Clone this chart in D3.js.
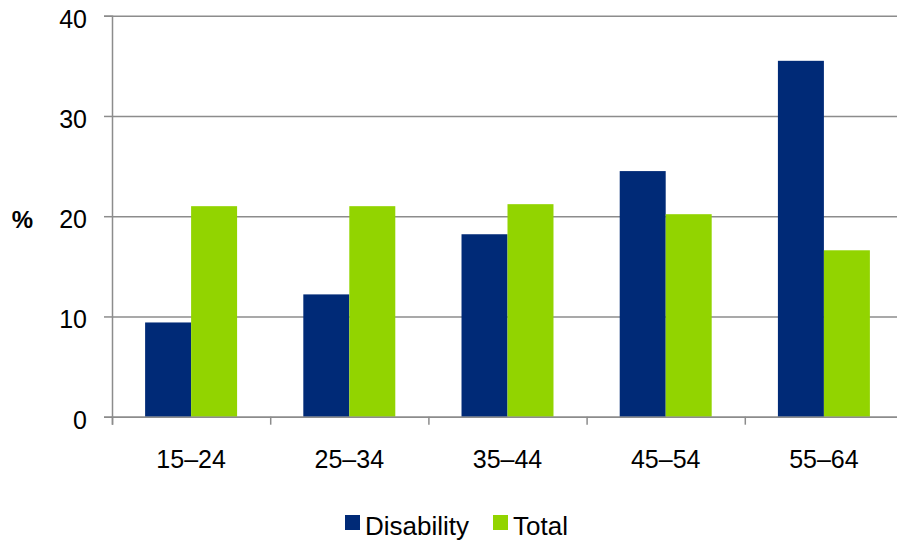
<!DOCTYPE html>
<html>
<head>
<meta charset="utf-8">
<script src="https://cdn.jsdelivr.net/npm/d3@7"></script>
<style>
  body { margin: 0; background: #fff; }
  text { font-family: Arial, "Liberation Sans", sans-serif; fill: #000; }
</style>
</head>
<body>
<div id="chart"></div>
<script>
// values
const categories = ['15–24', '25–34', '35–44', '45–54', '55–64'];
const seriesNames = ['Disability', 'Total'];
const disability = [9.4, 12.2, 18.2, 24.5, 35.5];
const total = [21.0, 21.0, 21.2, 20.2, 16.6];
const yTicks = [0, 10, 20, 30, 40];
const colors = { Disability: '#002A77', Total: '#92D400' };

const width = 897, height = 542;
const plotLeft = 112, plotRight = 903, plotTop = 15.7, plotBottom = 416.7;

const svg = d3.select('#chart').append('svg')
  .attr('width', width)
  .attr('height', height);

const yScale = d3.scaleLinear().domain([0, 40]).range([plotBottom, plotTop]);
const x0 = d3.scaleBand().domain(categories).range([plotLeft, plotRight]).padding(0);
const x1 = d3.scaleBand().domain(seriesNames).range([0, x0.bandwidth()])
  .paddingInner(0).paddingOuter(0.72);

// grid lines
svg.append('g')
  .attr('class', 'grid')
  .attr('transform', `translate(${plotLeft},0)`)
  .call(d3.axisLeft(yScale).tickValues(yTicks).tickSize(-(plotRight - plotLeft)).tickFormat(''))
  .call(g => g.select('.domain').remove())
  .call(g => g.selectAll('line').attr('stroke', '#8c8c8c').attr('stroke-width', 1.5));

// bars
const rows = categories.map((c, i) => ({ cat: c, Disability: disability[i], Total: total[i] }));
svg.append('g').selectAll('g')
  .data(rows)
  .join('g')
  .attr('transform', d => `translate(${x0(d.cat)},0)`)
  .selectAll('rect')
  .data(d => seriesNames.map(s => ({ key: s, value: d[s] })))
  .join('rect')
  .attr('x', d => x1(d.key))
  .attr('width', x1.bandwidth())
  .attr('y', d => yScale(d.value))
  .attr('height', d => plotBottom - yScale(d.value))
  .attr('fill', d => colors[d.key]);

// y axis
svg.append('g')
  .attr('transform', `translate(${plotLeft},0)`)
  .call(d3.axisLeft(yScale).tickValues(yTicks).tickSize(8).tickPadding(17))
  .call(g => g.select('.domain').attr('stroke', '#8c8c8c').attr('stroke-width', 1.5))
  .call(g => g.selectAll('line').attr('stroke', '#8c8c8c').attr('stroke-width', 1.5))
  .call(g => g.selectAll('text')
    .attr('font-size', 25)
    .attr('font-family', 'Arial, "Liberation Sans", sans-serif')
    .attr('fill', '#000')
    .attr('dy', '0.46em'));

// x axis: ticks on category boundaries
const xIdx = d3.scaleLinear().domain([0, categories.length]).range([plotLeft, plotRight]);
svg.append('g')
  .attr('transform', `translate(0,${plotBottom})`)
  .call(d3.axisBottom(xIdx).ticks(categories.length).tickSize(8).tickFormat(''))
  .call(g => g.select('.domain').attr('stroke', '#8c8c8c').attr('stroke-width', 1.5))
  .call(g => g.selectAll('line').attr('stroke', '#8c8c8c').attr('stroke-width', 1.5));

svg.append('g').selectAll('text')
  .data(categories)
  .join('text')
  .attr('x', d => x0(d) + x0.bandwidth() / 2)
  .attr('y', 468)
  .attr('text-anchor', 'middle')
  .attr('font-size', 25)
  .text(d => d);

// y axis title
svg.append('text')
  .attr('x', 22.5)
  .attr('y', 228)
  .attr('text-anchor', 'middle')
  .attr('font-size', 24)
  .attr('font-weight', 'bold')
  .text('%');

// legend
const legendX = [345, 493];
const legend = svg.append('g').selectAll('g')
  .data(seriesNames)
  .join('g')
  .attr('transform', (d, i) => `translate(${legendX[i]},515)`);
legend.append('rect')
  .attr('width', 15)
  .attr('height', 15)
  .attr('fill', d => colors[d]);
legend.append('text')
  .attr('x', 20)
  .attr('y', 20)
  .attr('font-size', 26)
  .text(d => d);
</script>
</body>
</html>
